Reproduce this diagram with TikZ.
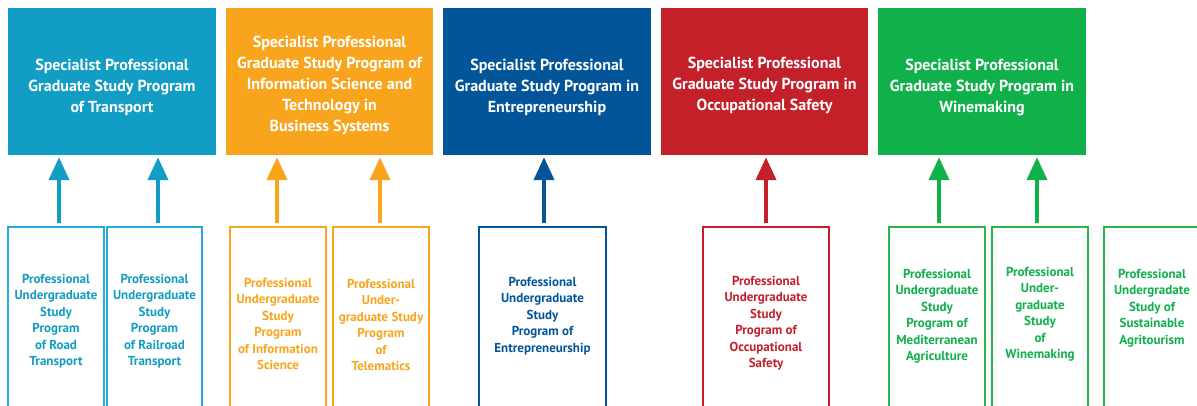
\documentclass[tikz,border=0pt]{standalone}
\usepackage{fontspec}
\setmainfont{PT Sans}
\usetikzlibrary{arrows.meta}
\definecolor{cBlue}{HTML}{129DC4}
\definecolor{cBlueL}{HTML}{27AAE1}
\definecolor{cOrange}{HTML}{F8A51D}
\definecolor{cNavy}{HTML}{03559A}
\definecolor{cRed}{HTML}{C4202A}
\definecolor{cGreen}{HTML}{10B04B}
\definecolor{cGreenL}{HTML}{2DB54B}
\tikzset{
  topbox/.style={rectangle, minimum width=208pt, minimum height=147pt, inner sep=0pt},
  toptext/.style={text=white, align=center, inner sep=0pt, font=\bfseries\fontsize{16}{21}\selectfont},
  botbox/.style={rectangle, draw, line width=1.5pt, minimum height=193pt, inner sep=0pt},
  bottext/.style={align=center, inner sep=0pt, font=\bfseries\fontsize{13}{16.5}\selectfont},
  uparrow/.style={line width=4pt, -{Triangle[length=23pt,width=20pt]}, shorten <=3pt, shorten >=2pt}
}
\begin{document}
\begin{tikzpicture}[x=1pt,y=-1pt]
\clip (0,0) rectangle (1197,405);
\fill[white] (0,0) rectangle (1197,405);
% top boxes
\node[topbox, fill=cBlue] (t1) at (112,81.5) {};
\node[topbox, fill=cOrange, minimum width=207pt] (t2) at (329.5,81.5) {};
\node[topbox, fill=cNavy] (t3) at (547,81.5) {};
\node[topbox, fill=cRed, minimum width=207pt] (t4) at (764.5,81.5) {};
\node[topbox, fill=cGreen] (t5) at (982,81.5) {};
\node[toptext] (s1) at ([yshift=-5.5pt]t1.center) {Specialist Professional\\Graduate Study Program\\of Transport};
\node[toptext] (s2) at ([yshift=-4pt]t2.center) {Specialist Professional\\Graduate Study Program of\\Information Science and\\Technology in\\Business Systems};
\node[toptext] (s3) at ([yshift=-5.5pt]t3.center) {Specialist Professional\\Graduate Study Program in\\Entrepreneurship};
\node[toptext] (s4) at ([yshift=-3.5pt]t4.center) {Specialist Professional\\Graduate Study Program in\\Occupational Safety};
\node[toptext] (s5) at ([yshift=-5.5pt]t5.center) {Specialist Professional\\Graduate Study Program in\\Winemaking};
% bottom boxes
\node[botbox, draw=cBlueL, minimum width=96pt] (b1) at (56,323.5) {};
\node[botbox, draw=cBlueL, minimum width=95pt] (b2) at (154.5,323.5) {};
\node[botbox, draw=cOrange, minimum width=96pt] (b3) at (278,323.5) {};
\node[botbox, draw=cOrange, minimum width=96pt] (b4) at (381,323.5) {};
\node[botbox, draw=cNavy, line width=2pt, minimum width=127pt] (b5) at (542.5,323.5) {};
\node[botbox, draw=cRed, line width=2.6pt, minimum width=126pt] (b6) at (766,323.5) {};
\node[botbox, draw=cGreenL, minimum width=96pt] (b7) at (937,323.5) {};
\node[botbox, draw=cGreenL, minimum width=96pt] (b8) at (1040,323.5) {};
\node[botbox, draw=cGreenL, minimum width=106pt] (b9) at (1157,323.5) {};
% bottom texts
\node[bottext, text=cBlue] (l1) at (56,321) {Professional\\Undergraduate\\Study\\Program\\of Road\\Transport};
\node[bottext, text=cBlue] (l2) at (154.5,321) {Professional\\Undergraduate\\Study\\Program\\of Railroad\\Transport};
\node[bottext, text=cOrange] (l3) at (278,324) {Professional\\Undergraduate\\Study\\Program\\of Information\\Science};
\node[bottext, text=cOrange] (l4) at (381,325) {Professional\\Under-\\graduate Study\\Program\\of\\Telematics};
\node[bottext, text=cNavy] (l5) at (542.5,316) {Professional\\Undergraduate\\Study\\Program of\\Entrepreneurship};
\node[bottext, text=cRed] (l6) at (766,323) {Professional\\Undergraduate\\Study\\Program of\\Occupational\\Safety};
\node[bottext, text=cGreen] (l7) at (937,316) {Professional\\Undergraduate\\Study\\Program of\\Mediterranean\\Agriculture};
\node[bottext, text=cGreen] (l8) at (1040,314) {Professional\\Under-\\graduate\\Study\\of\\Winemaking};
\node[bottext, text=cGreen] (l9) at (1152,308) {Professional\\Undergradate\\Study of\\Sustainable\\Agritourism};
% arrows
\draw[uparrow, cBlue] ([xshift=3pt]b1.north) -- ([xshift=3pt]b1.north |- t1.south);
\draw[uparrow, cBlue] ([xshift=3.5pt]b2.north) -- ([xshift=3.5pt]b2.north |- t1.south);
\draw[uparrow, cOrange] ([xshift=-1pt]b3.north) -- ([xshift=-1pt]b3.north |- t2.south);
\draw[uparrow, cOrange] ([xshift=-1pt]b4.north) -- ([xshift=-1pt]b4.north |- t2.south);
\draw[uparrow, cNavy] ([xshift=1.5pt]b5.north) -- ([xshift=1.5pt]b5.north |- t3.south);
\draw[uparrow, cRed] (b6.north) -- (b6.north |- t4.south);
\draw[uparrow, cGreen] ([xshift=2pt]b7.north) -- ([xshift=2pt]b7.north |- t5.south);
\draw[uparrow, cGreen] ([xshift=-3pt]b8.north) -- ([xshift=-3pt]b8.north |- t5.south);
\end{tikzpicture}
\end{document}
